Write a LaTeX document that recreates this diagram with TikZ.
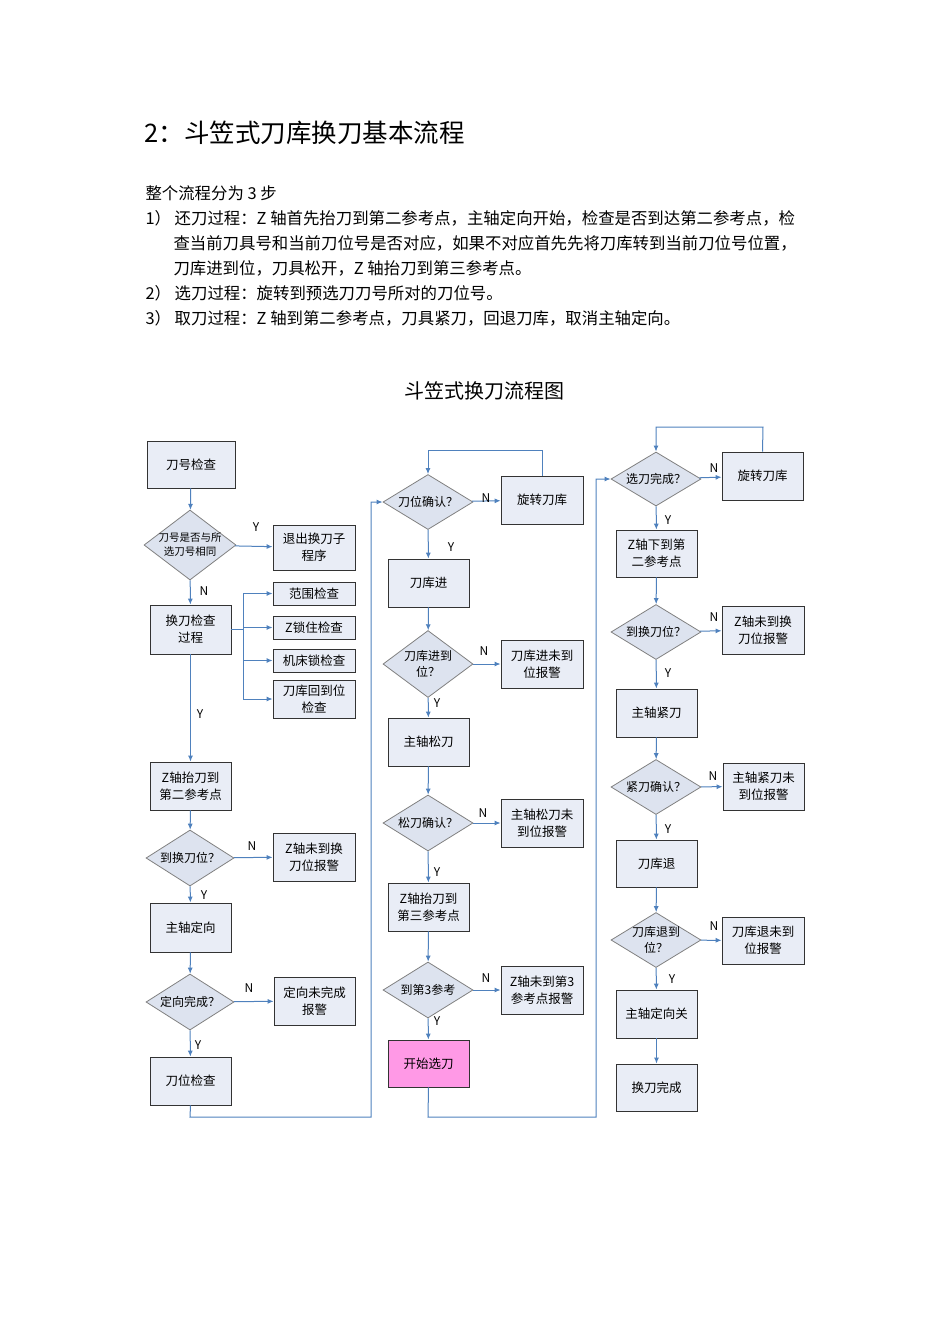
\documentclass[tikz,border=0pt]{standalone}
\usepackage{fontspec}
\setmainfont{Noto Sans CJK SC}
\usetikzlibrary{shapes.geometric,arrows.meta}
\definecolor{ln}{RGB}{79,129,189}
\definecolor{bx}{RGB}{233,237,246}
\definecolor{dm}{RGB}{221,227,239}
\definecolor{pk}{RGB}{255,153,230}
\tikzset{
 box/.style={draw=black!80,fill=bx,line width=0.8pt,align=center,font=\fontsize{12.5}{17}\selectfont,inner sep=1pt},
 dia/.style={diamond,draw=gray,fill=dm,line width=0.8pt,inner sep=0pt},
 dtxt/.style={align=center,font=\fontsize{12}{16}\selectfont},
 ar/.style={draw=ln,line width=1pt,-{Latex[length=6pt,width=5pt]}},
 ln/.style={draw=ln,line width=1pt},
 yn/.style={font=\fontsize{12}{14}\selectfont}
}
\newcommand{\bxat}[6]{\node[box,minimum width={#4-#2},minimum height={#5-#3}] (#1) at ({(#2+#4)/2},{(#3+#5)/2}) {#6};}
\newcommand{\dmat}[6]{\node[dia,minimum width=#4,minimum height=#5] (#1) at (#2,#3) {};\node[dtxt] at (#1) {#6};}
\begin{document}
\begin{tikzpicture}[x=1pt,y=-1pt]
\useasboundingbox (0,0) rectangle (950,1344);
\node[anchor=west,font=\fontsize{25.5}{28}\selectfont] (title) at (141,133) {2：斗笠式刀库换刀基本流程};
\begin{scope}[every node/.style={anchor=west,font=\fontsize{16.4}{19}\selectfont}]
\node (p0) at (142,193) {整个流程分为 3 步};
\node (p1) at (142,218) {1）\ 还刀过程：Z 轴首先抬刀到第二参考点，主轴定向开始，检查是否到达第二参考点，检};
\node (p1b) at (170,243) {查当前刀具号和当前刀位号是否对应，如果不对应首先先将刀库转到当前刀位号位置，};
\node (p1c) at (170,268) {刀库进到位，刀具松开，Z 轴抬刀到第三参考点。};
\node (p2) at (142,293) {2）\ 选刀过程：旋转到预选刀刀号所对的刀位号。};
\node (p3) at (142,318) {3）\ 取刀过程：Z 轴到第二参考点，刀具紧刀，回退刀库，取消主轴定向。};
\end{scope}
\node[font=\fontsize{20}{22}\selectfont] (ct) at (484,391) {斗笠式换刀流程图};
% column 1
\bxat{a1}{147}{441}{235}{488}{刀号检查}
\node[dia,minimum width=92,minimum height=70] (d1) at (190,545) {};
\node[dtxt,font=\fontsize{10.5}{14}\selectfont] at (d1) {刀号是否与所\\选刀号相同};
\bxat{e1}{273}{525}{355}{570}{退出换刀子\\程序}
\bxat{a2}{150}{605}{231}{654}{换刀检查\\过程}
\bxat{c1}{273}{582}{355}{605}{范围检查}
\bxat{c2}{273}{616}{355}{639}{Z锁住检查}
\bxat{c3}{273}{649}{355}{672}{机床锁检查}
\bxat{c4}{273}{680}{355}{718}{刀库回到位\\检查}
\bxat{a3}{150}{762}{231}{810}{Z轴抬刀到\\第二参考点}
\dmat{d2}{190}{858}{88}{56}{到换刀位？}
\bxat{e2}{273}{833}{355}{881}{Z轴未到换\\刀位报警}
\bxat{a4}{150}{903}{231}{952}{主轴定向}
\dmat{d3}{190}{1002}{88}{56}{定向完成？}
\bxat{e3}{274}{977}{355}{1025}{定向未完成\\报警}
\bxat{a5}{150}{1057}{231}{1105}{刀位检查}
\draw[ar] (a1) -- (d1);
\draw[ar] (d1) -- (e1);
\draw[ar] (d1) -- (a2);
\draw[ln] (a2.east) -- (243,629.5) coordinate (br);
\draw[ln] (243,593.5) -- (243,699);
\foreach \c in {c1,c2,c3,c4} \draw[ar] (243,0 |- \c.west) -- (\c.west);
\draw[ar] (a2) -- (a3);
\draw[ar] (a3) -- (d2);
\draw[ar] (d2) -- (e2);
\draw[ar] (d2) -- (a4);
\draw[ar] (a4) -- (d3);
\draw[ar] (d3) -- (e3);
\draw[ar] (d3) -- (a5);
\node[yn] at (256,527) {Y};
\node[yn] at (204,591) {N};
\node[yn] at (200,714) {Y};
\node[yn] at (252,846) {N};
\node[yn] at (204,895) {Y};
\node[yn] at (249,988) {N};
\node[yn] at (198,1045) {Y};
% column 2
\dmat{f1}{428}{502}{90}{55}{刀位确认？}
\bxat{g1}{501}{476}{583}{524}{旋转刀库}
\bxat{b1}{388}{559}{469}{607}{刀库进}
\dmat{f2}{428}{664}{90}{67}{刀库进到\\位？}
\bxat{g2}{501}{640}{583}{688}{刀库进未到\\位报警}
\bxat{b2}{388}{718}{469}{766}{主轴松刀}
\dmat{f3}{428}{823}{90}{56}{松刀确认？}
\bxat{g3}{501}{799}{583}{847}{主轴松刀未\\到位报警}
\bxat{b3}{388}{883}{469}{931}{Z轴抬刀到\\第三参考点}
\dmat{f4}{428}{990}{90}{56}{到第3参考}
\bxat{g4}{501}{966}{583}{1014}{Z轴未到第3\\参考点报警}
\node[box,fill=pk,minimum width=81,minimum height=47] (b4) at (428.5,1063.5) {开始选刀};
\draw[ar] (a5.south) -- (190,1117) -- (371,1117) -- (371,502) -- (f1.west);
\draw[ar] (f1) -- (g1);
\draw[ar] (g1.north) -- (542,450) -- (428,450) -- (f1.north);
\draw[ar] (f1) -- (b1);
\draw[ar] (b1) -- (f2);
\draw[ar] (f2) -- (g2);
\draw[ar] (f2) -- (b2);
\draw[ar] (b2) -- (f3);
\draw[ar] (f3) -- (g3);
\draw[ar] (f3) -- (b3);
\draw[ar] (b3) -- (f4);
\draw[ar] (f4) -- (g4);
\draw[ar] (f4) -- (b4);
\node[yn] at (486,498) {N};
\node[yn] at (451,547) {Y};
\node[yn] at (484,651) {N};
\node[yn] at (437,703) {Y};
\node[yn] at (483,813) {N};
\node[yn] at (437,872) {Y};
\node[yn] at (486,978) {N};
\node[yn] at (437,1021) {Y};
% column 3
\dmat{h1}{656}{479}{90}{54}{选刀完成？}
\bxat{k1}{722}{452}{803}{500}{旋转刀库}
\bxat{m1}{616}{530}{697}{577}{Z轴下到第\\二参考点}
\dmat{h2}{656}{632}{90}{55}{到换刀位？}
\bxat{k2}{722}{606}{804}{654}{Z轴未到换\\刀位报警}
\bxat{m2}{616}{689}{697}{737}{主轴紧刀}
\dmat{h3}{656}{787}{90}{55}{紧刀确认？}
\bxat{k3}{723}{763}{804}{810}{主轴紧刀未\\到位报警}
\bxat{m3}{616}{840}{697}{887}{刀库退}
\dmat{h4}{656}{940}{90}{55}{刀库退到\\位？}
\bxat{k4}{722}{917}{804}{964}{刀库退未到\\位报警}
\bxat{m4}{616}{990}{697}{1038}{主轴定向关}
\bxat{m5}{616}{1064}{697}{1111}{换刀完成}
\draw[ar] (b4.south) -- (428,1117) -- (596,1117) -- (596,479) -- (h1.west);
\draw[ar] (h1) -- (k1);
\draw[ar] (k1.north) -- (763,427) -- (656,427) -- (h1.north);
\draw[ar] (h1) -- (m1);
\draw[ar] (m1) -- (h2);
\draw[ar] (h2) -- (k2);
\draw[ar] (h2) -- (m2);
\draw[ar] (m2) -- (h3);
\draw[ar] (h3) -- (k3);
\draw[ar] (h3) -- (m3);
\draw[ar] (m3) -- (h4);
\draw[ar] (h4) -- (k4);
\draw[ar] (h4) -- (m4);
\draw[ar] (m4) -- (m5);
\node[yn] at (714,468) {N};
\node[yn] at (668,520) {Y};
\node[yn] at (714,617) {N};
\node[yn] at (668,673) {Y};
\node[yn] at (713,776) {N};
\node[yn] at (668,829) {Y};
\node[yn] at (714,926) {N};
\node[yn] at (672,979) {Y};
\end{tikzpicture}
\end{document}
